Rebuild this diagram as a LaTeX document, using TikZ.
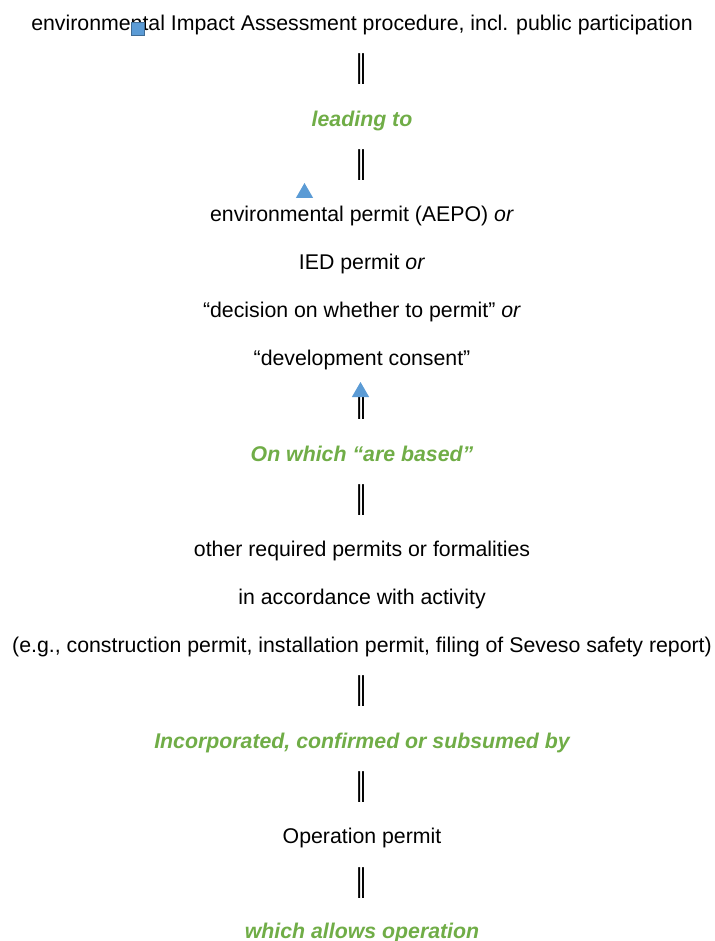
\documentclass[tikz,border=0pt]{standalone}
\usepackage{fontspec}
\setmainfont{Liberation Sans}
\usetikzlibrary{shapes.geometric}
\definecolor{lgreen}{HTML}{70AD47}
\definecolor{mblue}{HTML}{5B9BD5}
\begin{document}
\begin{tikzpicture}[x=1pt,y=-1pt,
  txt/.style={anchor=base,inner sep=0pt,font=\fontsize{21.3}{25}\selectfont},
  bar/.style={anchor=base,inner sep=0pt,font=\fontsize{21.3}{25}\selectfont},
  gtxt/.style={txt,text=lgreen,font=\fontsize{21.3}{25}\selectfont\bfseries\itshape},
  tri/.style={regular polygon,regular polygon sides=3,fill=mblue,inner sep=0pt,minimum size=20pt}]
\useasboundingbox (0,0) rectangle (714,941);
\def\cx{362}
\newcommand\dbar{\scalebox{1.15}[2]{‖}}
\node[txt] (l1) at (\cx,30.5) {environmental Impact Assessment procedure, incl. public participation};
\node[bar] (b1) at (\cx,85) {\dbar};
\node[gtxt] (l2) at (\cx,126.2) {leading to};
\node[bar] (b2) at (\cx,180.5) {\dbar};
\node[txt] (l3) at (\cx,221.9) {environmental permit (AEPO) \textit{or}};
\node[txt] (l4) at (\cx,269.7) {IED permit \textit{or}};
\node[txt] (l5) at (\cx,317.5) {“decision on whether to permit” \textit{or}};
\node[txt] (l6) at (\cx,365.4) {“development consent”};
\node[bar] (b3) at (\cx,419.5) {\dbar};
\node[gtxt] (l7) at (\cx,461.0) {On which “are based”};
\node[bar] (b4) at (\cx,515.4) {\dbar};
\node[txt] (l8) at (\cx,556.7) {other required permits or formalities};
\node[txt] (l9) at (\cx,604.6) {in accordance with activity};
\node[txt] (l10) at (\cx,652.4) {(e.g., construction permit, installation permit, filing of Seveso safety report)};
\node[bar] (b5) at (\cx,706.7) {\dbar};
\node[gtxt] (l11) at (\cx,748.1) {Incorporated, confirmed or subsumed by};
\node[bar] (b6) at (\cx,802.4) {\dbar};
\node[txt] (l12) at (\cx,843.8) {Operation permit};
\node[bar] (b7) at (\cx,898.1) {\dbar};
\node[gtxt] (l13) at (\cx,938.4) {which allows operation};
\node[draw=mblue!70!black,fill=mblue,line width=0.6pt,minimum size=13pt,inner sep=0pt] (sq) at (138,29) {};
\node[tri] (t1) at (304.5,193) {};
\node[tri] (t2) at (360.5,392) {};
\end{tikzpicture}
\end{document}
